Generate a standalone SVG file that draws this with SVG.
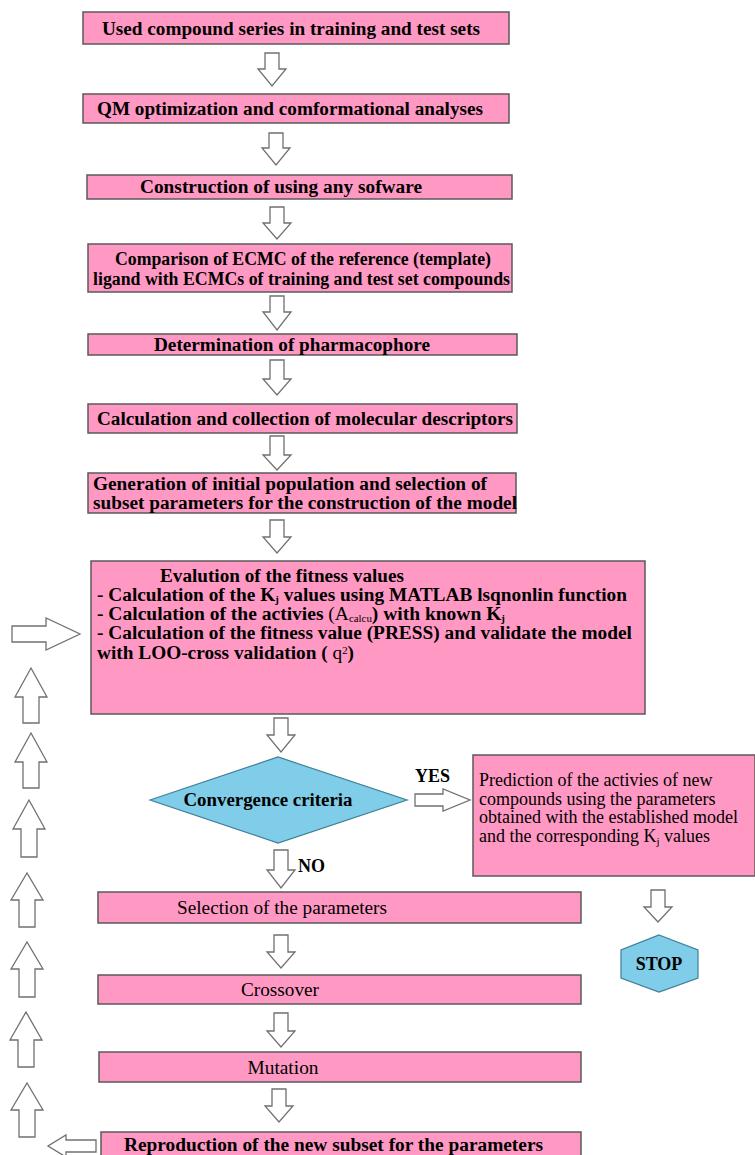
<svg xmlns="http://www.w3.org/2000/svg" width="755" height="1155" viewBox="0 0 755 1155">
<style>
.box{fill:#FF99C4;stroke:#5a5a5a;stroke-width:1.5}
.blue{fill:#7FCDE8;stroke:#3f7f98;stroke-width:1.2}
.arr{fill:#fff;stroke:#707070;stroke-width:1.3;stroke-linejoin:miter}
.b{font-family:"Liberation Serif","Times New Roman",serif;font-weight:bold;font-size:18px;fill:#000}
.r{font-family:"Liberation Serif","Times New Roman",serif;font-size:18px;fill:#000}
</style>
<rect width="755" height="1155" fill="#fff"/>

<g id="n1"><rect class="box" x="83" y="12" width="426" height="32"/><text class="b" x="102" y="35" textLength="378" lengthAdjust="spacingAndGlyphs">Used compound series in training and test sets</text></g>
<g id="n2"><rect class="box" x="83" y="94" width="426" height="29"/><text class="b" x="97" y="115" textLength="386" lengthAdjust="spacingAndGlyphs">QM optimization and comformational analyses</text></g>
<g id="n3"><rect class="box" x="87" y="175" width="425" height="24"/><text class="b" x="140" y="193" textLength="282" lengthAdjust="spacingAndGlyphs">Construction of using any sofware</text></g>
<g id="n4"><rect class="box" x="88" y="244" width="424" height="48"/><text class="b" x="115" y="265" textLength="376" lengthAdjust="spacingAndGlyphs">Comparison of ECMC of the reference (template)</text><text class="b" x="93" y="285" textLength="417" lengthAdjust="spacingAndGlyphs">ligand with ECMCs of training and test set compounds</text></g>
<g id="n5"><rect class="box" x="88" y="334" width="429" height="21"/><text class="b" x="154" y="351" textLength="276" lengthAdjust="spacingAndGlyphs">Determination of pharmacophore</text></g>
<g id="n6"><rect class="box" x="88" y="404" width="429" height="29"/><text class="b" x="97" y="425" textLength="416" lengthAdjust="spacingAndGlyphs">Calculation and collection of molecular descriptors</text></g>
<g id="n7"><rect class="box" x="88" y="473" width="428" height="40"/><text class="b" x="93" y="490" font-size="17" textLength="394" lengthAdjust="spacingAndGlyphs">Generation of initial population and selection of</text><text class="b" x="93" y="509" font-size="17" textLength="424" lengthAdjust="spacingAndGlyphs">subset parameters for the construction of the model</text></g>

<g id="n8"><rect class="box" x="91" y="561" width="554" height="153"/>
<text class="b" x="160" y="582" textLength="244" lengthAdjust="spacingAndGlyphs">Evalution of the fitness values</text>
<text class="b" x="97" y="601" textLength="530" lengthAdjust="spacingAndGlyphs">- Calculation of the K<tspan font-size="10" dy="2">j</tspan><tspan dy="-2"> values using MATLAB lsqnonlin function</tspan></text>
<text class="b" x="97" y="620" textLength="408" lengthAdjust="spacingAndGlyphs">- Calculation of the activies <tspan font-weight="normal">(A</tspan><tspan font-weight="normal" font-size="10" dy="2">calcu</tspan><tspan dy="-2">) with known K</tspan><tspan font-size="10" dy="2">j</tspan></text>
<text class="b" x="97" y="639" textLength="535" lengthAdjust="spacingAndGlyphs">- Calculation of the fitness value (PRESS) and validate the model</text>
<text class="b" x="97" y="659" textLength="257" lengthAdjust="spacingAndGlyphs">with LOO-cross validation ( <tspan font-weight="normal">q</tspan><tspan font-weight="normal" font-size="10" dy="-5">2</tspan><tspan dy="5">)</tspan></text>
</g>

<g id="n9"><polygon class="blue" points="150,800 278,757 407,800 278,843"/><text class="b" x="268" y="806" text-anchor="middle" textLength="169" lengthAdjust="spacingAndGlyphs">Convergence criteria</text></g>

<g id="n10"><rect class="box" x="473" y="755" width="282" height="121"/>
<text class="r" x="479" y="786">Prediction of the activies of new</text>
<text class="r" x="479" y="805">compounds using the parameters</text>
<text class="r" x="479" y="823">obtained with the established model</text>
<text class="r" x="479" y="842">and the corresponding K<tspan font-size="11" dy="3">j</tspan><tspan dy="-3"> values</tspan></text>
</g>

<g id="n11"><rect class="box" x="98" y="892" width="483" height="31"/><text class="r" x="282" y="914" text-anchor="middle" textLength="210" lengthAdjust="spacingAndGlyphs">Selection of the parameters</text></g>
<g id="n12"><rect class="box" x="98" y="975" width="483" height="29"/><text class="r" x="280" y="996" text-anchor="middle" textLength="78" lengthAdjust="spacingAndGlyphs">Crossover</text></g>
<g id="n13"><rect class="box" x="99" y="1052" width="482" height="30"/><text class="r" x="283" y="1074" text-anchor="middle" textLength="71" lengthAdjust="spacingAndGlyphs">Mutation</text></g>
<g id="n14"><rect class="box" x="101" y="1132" width="480" height="30"/><text class="b" x="124" y="1151" textLength="419" lengthAdjust="spacingAndGlyphs">Reproduction of the new subset for the parameters</text></g>

<g id="n15"><polygon class="blue" points="659,935 698,950 698,978 659,992 621,978 621,950"/><text class="b" x="659" y="970" text-anchor="middle" font-size="17">STOP</text></g>

<g id="connectors">
<polygon class="arr" points="265,53 279,53 279,69 286,69 272,86 258,69 265,69"/>
<polygon class="arr" points="269,133 283,133 283,148 290,148 276,165 262,148 269,148"/>
<polygon class="arr" points="270,207 284,207 284,223 291,223 277,239 263,223 270,223"/>
<polygon class="arr" points="270,296 284,296 284,312 291,312 277,330 263,312 270,312"/>
<polygon class="arr" points="270,360 284,360 284,379 291,379 277,395 263,379 270,379"/>
<polygon class="arr" points="270,436 284,436 284,455 291,455 277,470 263,455 270,455"/>
<polygon class="arr" points="270,520 284,520 284,537 291,537 277,553 263,537 270,537"/>
<polygon class="arr" points="274,718 288,718 288,735 295,735 281,752 267,735 274,735"/>
<polygon class="arr" points="274,850 288,850 288,870 295,870 281,888 267,870 274,870"/>
<polygon class="arr" points="274,935 288,935 288,952 295,952 281,968 267,952 274,952"/>
<polygon class="arr" points="274,1013 288,1013 288,1031 295,1031 281,1047 267,1031 274,1031"/>
<polygon class="arr" points="272,1089 286,1089 286,1106 293,1106 279,1122 265,1106 272,1106"/>
<polygon class="arr" points="651,890 665,890 665,907 672,907 658,922 644,907 651,907"/>
<polygon class="arr" points="415,794 443,794 443,789 470,800 443,811 443,806 415,806"/>
<polygon class="arr" points="12,626 46,626 46,618 80,634 46,650 46,642 12,642"/>
<polygon class="arr" points="96,1140 66,1140 66,1135 48,1146 66,1157 66,1152 96,1152"/>
<polygon class="arr" points="23,723 39,723 39,697 47,697 31,668 15,697 23,697"/>
<polygon class="arr" points="23,788 39,788 39,762 47,762 31,733 15,762 23,762"/>
<polygon class="arr" points="21,857 37,857 37,829 45,829 29,800 13,829 21,829"/>
<polygon class="arr" points="19,927 35,927 35,900 43,900 27,873 11,900 19,900"/>
<polygon class="arr" points="19,997 35,997 35,969 43,969 27,942 11,969 19,969"/>
<polygon class="arr" points="18,1067 34,1067 34,1040 42,1040 26,1012 10,1040 18,1040"/>
<polygon class="arr" points="19,1137 35,1137 35,1110 43,1110 27,1083 11,1110 19,1110"/>
<text class="b" x="415" y="782" font-size="16">YES</text>
<text class="b" x="298" y="872" font-size="16">NO</text>
</g>
</svg>
